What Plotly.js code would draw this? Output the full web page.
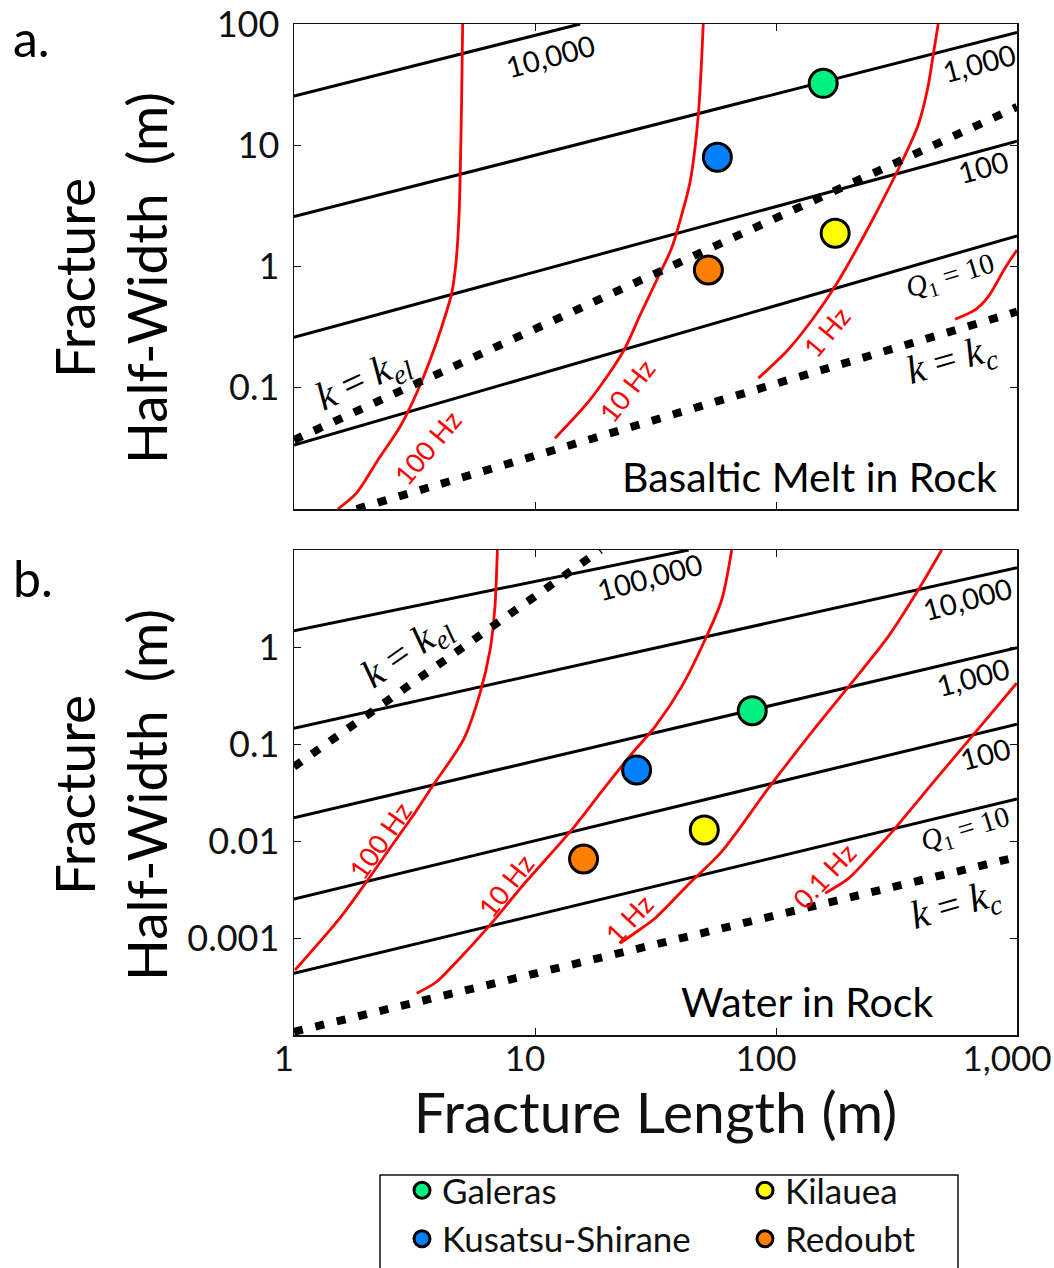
<!DOCTYPE html>
<html><head><meta charset="utf-8">
<script src="https://cdn.plot.ly/plotly-3.0.1.min.js"></script>
<style>html,body{margin:0;padding:0;background:#fff}#chart{width:1054px;height:1268px}</style>
</head><body><div id="chart"></div>
<script>
// ---------- tick labels ----------
const X_TICKS = [1, 10, 100, 1000];
const X_TICK_TEXT = ['1', '10', '100', '1,000'];
const YA_TICKS = [0.1, 1, 10, 100];
const YA_TICK_TEXT = ['0.1', '1', '10', '100'];
const YB_TICKS = [0.001, 0.01, 0.1, 1];
const YB_TICK_TEXT = ['0.001', '0.01', '0.1', '1'];

// ---------- volcanoes ----------
const VOLCANOES = ['Galeras', 'Kilauea', 'Kusatsu-Shirane', 'Redoubt'];
const VOLCANO_COLORS = ['#00F07F', '#FFFF00', '#0080FF', '#FF8000'];
const VOLCANO_LEGEND = ['legend', 'legend2', 'legend', 'legend2'];
const A_PTS_X = [157, 176, 57.1, 52.4];
const A_PTS_Y = [32.4, 1.88, 7.96, 0.936];
const B_PTS_X = [79.7, 50.4, 26.4, 15.9];
const B_PTS_Y = [0.220, 0.0130, 0.0540, 0.00652];

// ---------- panel a: basaltic melt in rock ----------
const A_Q_NAMES = ['10,000', '1,000', '100', '10'];
const A_Q_X = [[1, 15.4], [1, 1000], [1, 1000], [1, 1000]];
const A_Q_Y = [[25.5, 100], [2.58, 85.1], [0.261, 10.8], [0.0337, 1.79]];
const A_KEL_X = [1, 1000];
const A_KEL_Y = [0.0371, 20.7];
const A_KC_X = [1.82, 1000];
const A_KC_Y = [0.01, 0.424];
const A_F100_X = [5.01, 4.96, 4.84, 4.69, 4.51, 4.10, 3.67, 3.23, 2.75, 2.23, 1.82, 1.52];
const A_F100_Y = [100, 23.6, 2.66, 1.03, 0.60, 0.317, 0.169, 0.0906, 0.0474, 0.0254, 0.0136, 0.0100];
const A_F10_X = [49.9, 47.6, 44.0, 40.6, 36.9, 32.0, 27.3, 23.2, 16.9, 12.1];
const A_F10_Y = [100, 17.8, 4.98, 2.66, 1.42, 0.774, 0.398, 0.198, 0.0793, 0.0383];
const A_F1_X = [471, 449, 426, 389, 333, 249, 193, 170, 141, 112, 84.5];
const A_F1_Y = [100, 55.5, 29.5, 14.7, 7.31, 2.34, 0.936, 0.619, 0.362, 0.205, 0.120];
const A_F01_X = [1000, 892, 760, 670, 553];
const A_F01_Y = [1.37, 0.972, 0.564, 0.438, 0.367];

// ---------- panel b: water in rock ----------
const B_Q_NAMES = ['100,000', '10,000', '1,000', '100', '10'];
const B_Q_X = [[1, 43.4], [1, 1000], [1, 1000], [1, 1000], [1, 1000]];
const B_Q_Y = [[1.47, 10], [0.145, 6.58], [0.0174, 0.984], [0.00252, 0.160], [0.000433, 0.0271]];
const B_KEL_X = [1, 18.7];
const B_KEL_Y = [0.0583, 10];
const B_KC_X = [1, 1000];
const B_KC_Y = [0.000108, 0.00684];
const B_F100_X = [6.98, 6.82, 6.51, 5.91, 5.04, 3.74, 3.13, 2.50, 2.00, 1.55, 1.01];
const B_F100_Y = [10, 2.60, 0.931, 0.333, 0.110, 0.0363, 0.0185, 0.00841, 0.00380, 0.00160, 0.000468];
const B_F10_X = [65.5, 59.5, 50.7, 40.6, 31.5, 25.3, 19.2, 14.0, 8.93, 6.50, 4.73, 3.91, 3.23];
const B_F10_Y = [10, 3.05, 1.18, 0.390, 0.151, 0.0802, 0.0341, 0.01247, 0.00352, 0.00136, 0.000570, 0.000354, 0.000269];
const B_F1_X = [487, 389, 292, 200, 136, 92.9, 59.5, 43.5, 31.5, 26.4, 22.5];
const B_F1_Y = [10, 3.87, 1.28, 0.390, 0.119, 0.0349, 0.00776, 0.00361, 0.00160, 0.00116, 0.000881];
const B_F01_X = [997, 649, 428, 312, 241, 200, 160];
const B_F01_Y = [0.423, 0.119, 0.0349, 0.0135, 0.00664, 0.00412, 0.00289];

// ---------- styles ----------
const FONT = 'Lato, "Open Sans", sans-serif';
const MATH = '"Liberation Serif", "DejaVu Serif", serif';
const BLACK_LINE = {color: '#000', width: 3};
const RED_LINE = {color: '#FF0000', width: 2.8, shape: 'spline', smoothing: 0.8};
const DOT_LINE = {color: '#000', width: 8, dash: '9px,13px'};

const traces = [];
function addLines(xs, ys, xa, ya, line) {
  for (let i = 0; i < xs.length; i++) {
    traces.push({x: xs[i], y: ys[i], xaxis: xa, yaxis: ya, mode: 'lines',
      line: line, showlegend: false, hoverinfo: 'skip'});
  }
}
// panel a
addLines(A_Q_X, A_Q_Y, 'x', 'y', BLACK_LINE);
addLines([A_F100_X, A_F10_X, A_F1_X, A_F01_X], [A_F100_Y, A_F10_Y, A_F1_Y, A_F01_Y], 'x', 'y', RED_LINE);
addLines([A_KEL_X, A_KC_X], [A_KEL_Y, A_KC_Y], 'x', 'y', DOT_LINE);
// panel b
addLines(B_Q_X, B_Q_Y, 'x2', 'y2', BLACK_LINE);
addLines([B_F100_X, B_F10_X, B_F1_X, B_F01_X], [B_F100_Y, B_F10_Y, B_F1_Y, B_F01_Y], 'x2', 'y2', RED_LINE);
addLines([B_KEL_X, B_KC_X], [B_KEL_Y, B_KC_Y], 'x2', 'y2', DOT_LINE);

for (let i = 0; i < VOLCANOES.length; i++) {
  const mk = {size: 28, color: VOLCANO_COLORS[i], line: {color: '#000', width: 3}};
  traces.push({x: [A_PTS_X[i]], y: [A_PTS_Y[i]], xaxis: 'x', yaxis: 'y', mode: 'markers',
    marker: mk, name: VOLCANOES[i], showlegend: false});
  traces.push({x: [B_PTS_X[i]], y: [B_PTS_Y[i]], xaxis: 'x2', yaxis: 'y2', mode: 'markers',
    marker: mk, name: VOLCANOES[i], showlegend: true, legend: VOLCANO_LEGEND[i]});
}

// ---------- annotations ----------
function ann(xr, yr, lx, ly, text, angle, size, color, family) {
  return {xref: xr, yref: yr, x: lx, y: ly, text: text, textangle: angle || 0,
    showarrow: false, xanchor: 'center', yanchor: 'middle',
    font: {family: family || FONT, size: size, color: color || '#000'}};
}
const KEL = '<i>k</i> = <i>k</i><sub><i>el</i></sub>';
const KC = '<i>k</i> = <i>k</i><sub><i>c</i></sub>';
const Q10 = '<i>Q</i><sub>1</sub> = 10';
const annotations = [
  // panel a (positions in log10 units of the axes)
  ann('x', 'y', 1.065, 1.739, A_Q_NAMES[0], -15, 29),
  ann('x', 'y', 2.842, 1.684, A_Q_NAMES[1], -15, 29),
  ann('x', 'y', 2.860, 0.823, A_Q_NAMES[2], -15, 29),
  ann('x', 'y', 2.722, -0.089, Q10, -17, 29, '#000', MATH),
  ann('x', 'y', 2.729, -0.777, KC, -16, 40, '#000', MATH),
  ann('x', 'y', 0.290, -0.935, KEL, -25, 40, '#000', MATH),
  ann('x', 'y', 0.553, -1.491, '100 Hz', -50, 27, '#FF0000'),
  ann('x', 'y', 1.380, -1.019, '10 Hz', -52, 27, '#FF0000'),
  ann('x', 'y', 2.210, -0.538, '1 Hz', -50, 27, '#FF0000'),
  ann('x', 'y', 2.139, -1.734, 'Basaltic Melt in Rock', 0, 41),
  // panel b
  ann('x2', 'y2', 1.477, 0.722, B_Q_NAMES[0], -15, 29),
  ann('x2', 'y2', 2.794, 0.495, B_Q_NAMES[1], -15, 29),
  ann('x2', 'y2', 2.819, -0.306, B_Q_NAMES[2], -15, 29),
  ann('x2', 'y2', 2.867, -1.103, B_Q_NAMES[3], -15, 29),
  ann('x2', 'y2', 2.787, -1.887, Q10, -17, 29, '#000', MATH),
  ann('x2', 'y2', 2.746, -2.667, KC, -16, 40, '#000', MATH),
  ann('x2', 'y2', 0.470, -0.050, KEL, -35, 40, '#000', MATH),
  ann('x2', 'y2', 0.357, -1.997, '100 Hz', -55, 27, '#FF0000'),
  ann('x2', 'y2', 0.878, -2.454, '10 Hz', -52, 27, '#FF0000'),
  ann('x2', 'y2', 1.390, -2.797, '1 Hz', -47, 27, '#FF0000'),
  ann('x2', 'y2', 2.199, -2.351, '0.1 Hz', -47, 27, '#FF0000'),
  ann('x2', 'y2', 2.130, -3.657, 'Water in Rock', 0, 41),
  // panel letters
  ann('paper', 'paper', 31 / 1054, 1 - 38 / 1268, 'a.', 0, 50),
  ann('paper', 'paper', 33 / 1054, 1 - 578 / 1268, 'b.', 0, 50),
  // y titles
  ann('paper', 'paper', 110 / 1054, 1 - 278 / 1268, 'Fracture<br>Half-Width  (m)', -90, 55),
  ann('paper', 'paper', 110 / 1054, 1 - 795 / 1268, 'Fracture<br>Half-Width  (m)', -90, 55)
];

const X0 = 294 / 1054, X1 = 1017 / 1054;
const axisCommon = {
  type: 'log', showgrid: false, zeroline: false, showline: true, mirror: 'ticks',
  linecolor: '#111', linewidth: 1.5, ticks: 'inside', ticklen: 7, tickwidth: 1,
  tickcolor: '#111', tickfont: {family: FONT, size: 36, color: '#111'}, tickmode: 'array'
};
const legendCommon = {
  orientation: 'v', xanchor: 'left', y: 0, yanchor: 'bottom',
  bgcolor: 'rgba(0,0,0,0)', borderwidth: 0, tracegroupgap: 0,
  font: {family: FONT, size: 35, color: '#111'}, itemsizing: 'trace'
};
const layout = {
  width: 1054, height: 1268,
  margin: {l: 0, r: 0, t: 0, b: 0},
  paper_bgcolor: '#fff', plot_bgcolor: '#fff',
  font: {family: FONT, color: '#111'},
  xaxis: Object.assign({}, axisCommon, {domain: [X0, X1], range: [0, 3], anchor: 'y',
    tickvals: X_TICKS, ticktext: X_TICK_TEXT, showticklabels: false}),
  yaxis: Object.assign({}, axisCommon, {domain: [1 - 509 / 1268, 1 - 24 / 1268], range: [-2, 2], anchor: 'x',
    tickvals: YA_TICKS, ticktext: YA_TICK_TEXT, ticklabelstandoff: 6}),
  xaxis2: Object.assign({}, axisCommon, {domain: [X0, X1], range: [0, 3], anchor: 'y2',
    tickvals: X_TICKS, ticktext: X_TICK_TEXT, ticklabelstandoff: -8, ticklabelshift: -10,
    ticklabeloverflow: 'allow', tickfont: {family: FONT, size: 35, color: '#111'},
    title: {text: 'Fracture Length (m)', font: {family: FONT, size: 57, color: '#111'}, standoff: 2}}),
  yaxis2: Object.assign({}, axisCommon, {domain: [1 - 1035 / 1268, 1 - 550 / 1268], range: [-4, 1], anchor: 'x2',
    tickvals: YB_TICKS, ticktext: YB_TICK_TEXT, ticklabelstandoff: 6}),
  showlegend: true,
  legend: Object.assign({}, legendCommon, {x: 402 / 1054}),
  legend2: Object.assign({}, legendCommon, {x: 745 / 1054}),
  shapes: [{type: 'rect', xref: 'paper', yref: 'paper',
    x0: 380 / 1054, x1: 958 / 1054, y0: -0.01, y1: 1 - 1175 / 1268,
    line: {color: '#111', width: 1.5}, fillcolor: 'rgba(0,0,0,0)'}],
  annotations: annotations
};
Plotly.newPlot('chart', traces, layout, {staticPlot: true, displayModeBar: false});
</script>
</body></html>
